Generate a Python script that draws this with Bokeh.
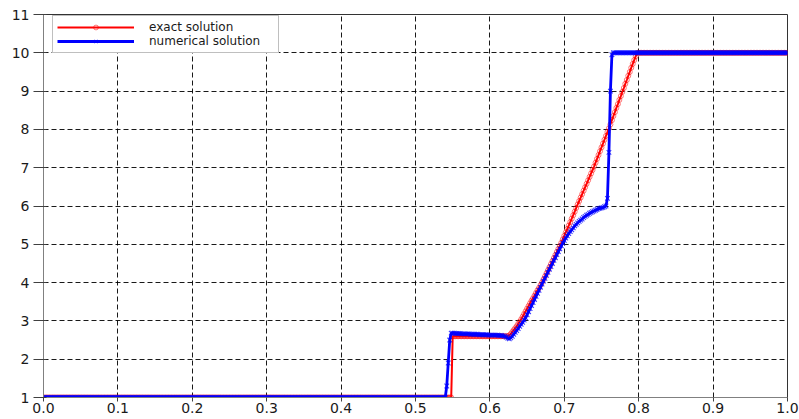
import numpy as np
from bokeh.plotting import figure
from bokeh.models import (Range1d, FixedTicker, Legend, LegendItem,
                          PrintfTickFormatter, ColumnDataSource)
from bokeh.embed import file_html
from bokeh.resources import INLINE

# ---------------- data ----------------
STEP = 0.002  # sampling interval of both solutions

# exact solution
exact_left = [1.0] * 275            # x = 0.000 .. 0.548
exact_plateau = [2.6] * 38          # x = 0.550 .. 0.624
exact_fan = [                       # x = 0.626 .. 0.798
    2.62, 2.66, 2.71, 2.76, 2.81, 2.86, 2.92, 2.98, 3.04, 3.11,
    3.18, 3.25, 3.32, 3.39, 3.46, 3.53, 3.59, 3.66, 3.73, 3.80,
    3.86, 3.93, 4.00, 4.08, 4.16, 4.24, 4.32, 4.40, 4.48, 4.56,
    4.64, 4.72, 4.80, 4.88, 4.96, 5.04, 5.13, 5.22, 5.31, 5.40,
    5.49, 5.58, 5.67, 5.76, 5.85, 5.95, 6.04, 6.13, 6.22, 6.31,
    6.40, 6.49, 6.58, 6.67, 6.76, 6.85, 6.94, 7.03, 7.13, 7.23,
    7.33, 7.43, 7.53, 7.63, 7.73, 7.83, 7.93, 8.03, 8.13, 8.24,
    8.35, 8.45, 8.56, 8.66, 8.77, 8.87, 8.98, 9.08, 9.19, 9.29,
    9.40, 9.50, 9.61, 9.71, 9.81, 9.91, 10.00,
]
exact_right = [10.0] * 101          # x = 0.800 .. 1.000

# numerical solution
num_left = [1.0] * 271              # x = 0.000 .. 0.540
num_jump = [1.3, 1.9, 2.5, 2.68]    # x = 0.542 .. 0.548
num_plateau = [                     # x = 0.550 .. 0.624
    2.68, 2.68, 2.67, 2.67, 2.67, 2.67, 2.66, 2.66, 2.66, 2.66,
    2.66, 2.66, 2.65, 2.65, 2.65, 2.65, 2.65, 2.65, 2.64, 2.64,
    2.64, 2.64, 2.64, 2.64, 2.63, 2.63, 2.63, 2.63, 2.63, 2.63,
    2.63, 2.62, 2.62, 2.62, 2.61, 2.60, 2.58, 2.55,
]
num_fan = [                         # x = 0.626 .. 0.756
    2.53, 2.56, 2.60, 2.65, 2.70, 2.75, 2.80, 2.86, 2.91, 2.96,
    3.02, 3.08, 3.16, 3.24, 3.32, 3.40, 3.48, 3.56, 3.64, 3.72,
    3.80, 3.88, 3.96, 4.04, 4.11, 4.19, 4.27, 4.35, 4.42, 4.50,
    4.58, 4.65, 4.73, 4.81, 4.88, 4.96, 5.03, 5.10, 5.16, 5.22,
    5.28, 5.33, 5.38, 5.43, 5.48, 5.52, 5.56, 5.60, 5.63, 5.66,
    5.70, 5.73, 5.76, 5.78, 5.81, 5.83, 5.85, 5.87, 5.89, 5.91,
    5.93, 5.94, 5.95, 5.96, 5.98, 6.00,
]
num_shock = [6.2, 7.4, 9.0, 9.95]   # x = 0.758 .. 0.764
num_right = [10.0] * 118            # x = 0.766 .. 1.000

x_ticks = [0.0, 0.1, 0.2, 0.3, 0.4, 0.5, 0.6, 0.7, 0.8, 0.9, 1.0]
y_ticks = [1, 2, 3, 4, 5, 6, 7, 8, 9, 10, 11]

exact_y = exact_left + exact_plateau + exact_fan + exact_right
num_y = num_left + num_jump + num_plateau + num_fan + num_shock + num_right
exact_x = np.arange(len(exact_y)) * STEP
num_x = np.arange(len(num_y)) * STEP

src_exact = ColumnDataSource(dict(x=exact_x, y=exact_y))
src_num = ColumnDataSource(dict(x=num_x, y=num_y))

# ---------------- figure ----------------
FONT = "DejaVu Sans"
p = figure(frame_width=744, frame_height=383,
           x_range=Range1d(0, 1), y_range=Range1d(1, 11),
           output_backend="svg", toolbar_location=None,
           min_border_left=43, min_border_right=12, min_border_top=14,
           min_border_bottom=0,
           background_fill_color="white", border_fill_color="white",
           outline_line_color="#333333")

for ax in (p.xaxis[0], p.yaxis[0]):
    ax.axis_line_color = "#808080"
    ax.major_tick_line_color = "#404040"
    ax.minor_tick_line_color = None
    ax.major_label_text_font = FONT
    ax.major_label_text_font_size = "14px"
    ax.major_label_text_color = "#1a1a1a"

p.xaxis.ticker = FixedTicker(ticks=x_ticks)
p.xaxis.formatter = PrintfTickFormatter(format="%.1f")
p.xaxis.major_tick_out = 4
p.xaxis.major_tick_in = 0
p.xaxis.major_label_standoff = 1

p.yaxis.ticker = FixedTicker(ticks=y_ticks)
p.yaxis.major_tick_out = 10
p.yaxis.major_tick_in = 3
p.yaxis.major_label_standoff = 4

for g in (p.xgrid[0], p.ygrid[0]):
    g.grid_line_color = "black"
    g.grid_line_dash = "5 3"
    g.grid_line_width = 1
    g.grid_line_alpha = 0.9
p.xgrid.ticker = FixedTicker(ticks=x_ticks)
p.ygrid.ticker = FixedTicker(ticks=y_ticks)

# ---------------- series ----------------
r_line = p.line("x", "y", source=src_exact, line_color="red", line_width=2)
r_mark = p.scatter("x", "y", source=src_exact, marker="circle", size=5,
                   line_color="red", line_width=0.9, line_alpha=0.6, fill_color=None)
b_line = p.line("x", "y", source=src_num, line_color="blue", line_width=2.8)
b_mark = p.scatter("x", "y", source=src_num, marker="x", size=6.5,
                   line_color="blue", line_width=1.1, line_alpha=0.75)

legend = Legend(items=[LegendItem(label="exact solution", renderers=[r_line, r_mark]),
                       LegendItem(label="numerical solution", renderers=[b_line, b_mark])],
                location=(9, 344), glyph_width=77, glyph_height=12, label_height=12,
                label_width=125, label_standoff=15, padding=4, spacing=0, margin=0,
                label_text_font=FONT, label_text_font_size="12px",
                label_text_color="#1a1a1a",
                border_line_color="#808080", border_line_width=1,
                background_fill_color="white", background_fill_alpha=1)
p.add_layout(legend)

open("out.html", "w").write(file_html(p, INLINE))
